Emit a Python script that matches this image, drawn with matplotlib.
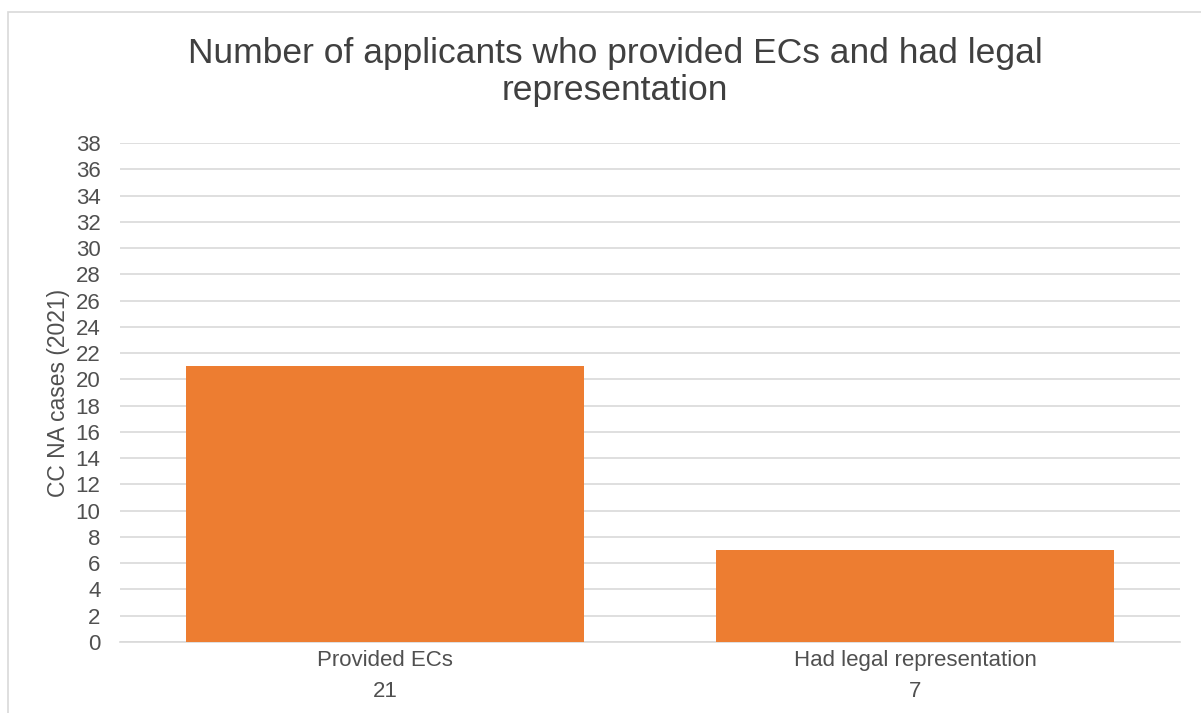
import matplotlib.pyplot as plt
import matplotlib.patches as patches

categories = ['Provided ECs', 'Had legal representation']
values = [21, 7]
y_ticks = list(range(0, 39, 2))

plt.rcParams['font.family'] = ['Liberation Sans', 'DejaVu Sans']

fig = plt.figure(figsize=(12.01, 7.13), dpi=100)
ax = fig.add_axes([0.0999, 0.0996, 0.8826, 0.6998])

# chart frame (open at right/bottom as in source)
fig.add_artist(patches.Rectangle((8 / 1201, -0.05), 1.2, 1 - 12 / 713 + 0.05,
                                 transform=fig.transFigure, fill=False,
                                 edgecolor='#D9D9D9', linewidth=1.2))

x = range(len(categories))
ax.bar(x, values, width=0.75, color='#ED7D31', zorder=3)

ax.set_xlim(-0.5, len(categories) - 0.5)
ax.set_ylim(0, 38)
ax.set_yticks(y_ticks)
ax.set_xticks(list(x))
ax.set_xticklabels([f'{c}\n{v}' for c, v in zip(categories, values)],
                   linespacing=1.6)
ax.grid(axis='y', color='#D9D9D9', linewidth=1.2, zorder=0)
for s in ['top', 'right', 'left']:
    ax.spines[s].set_visible(False)
ax.spines['bottom'].set_color('#D9D9D9')
ax.spines['bottom'].set_linewidth(1.2)
ax.tick_params(axis='both', length=0, labelsize=16, labelcolor='#505050')
ax.tick_params(axis='y', pad=14)
ax.tick_params(axis='x', pad=6)

ax.set_ylabel('CC NA cases (2021)', fontsize=16.5, color='#505050', labelpad=4)
fig.text(0.512, 1 - 72 / 713, 'Number of applicants who provided ECs and had legal\nrepresentation',
         ha='center', va='center', fontsize=25.5, color='#404040', linespacing=1.12)

fig.savefig('out.png', dpi=100)
